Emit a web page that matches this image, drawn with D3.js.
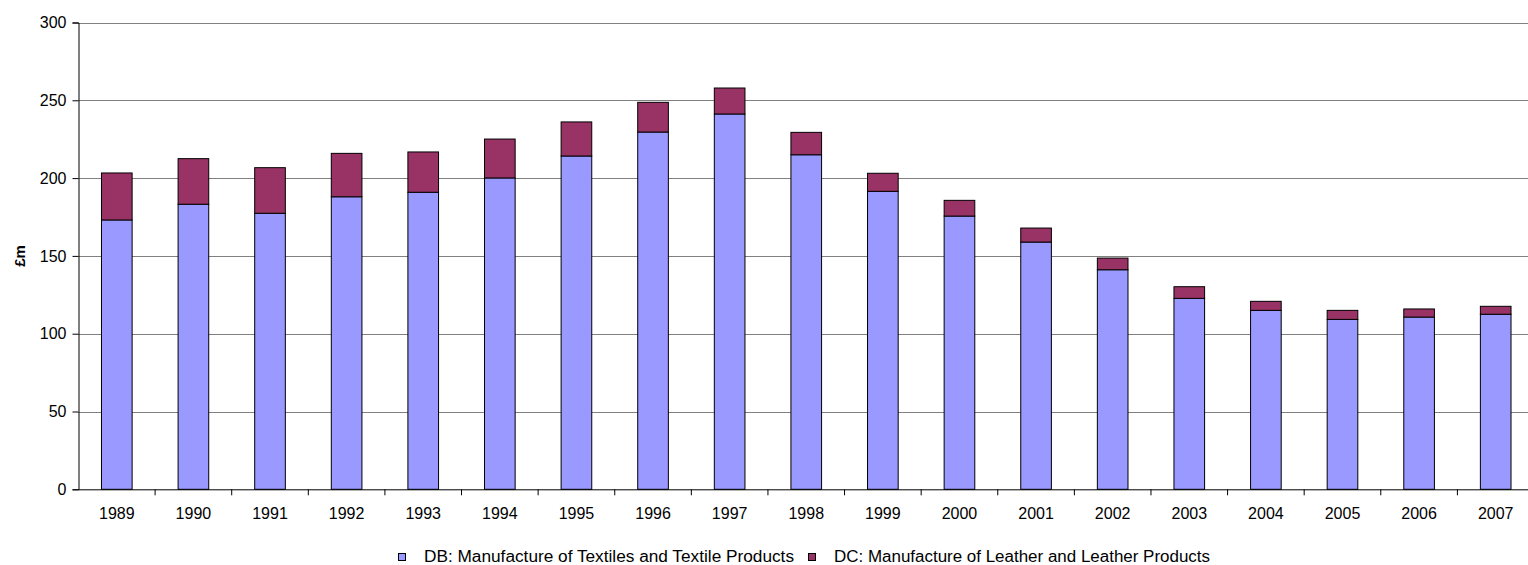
<!DOCTYPE html>
<html>
<head>
<meta charset="utf-8">
<script src="https://cdn.jsdelivr.net/npm/d3@7"></script>
<style>
  html, body { margin: 0; padding: 0; background: #fff; }
  svg { display: block; font-family: "Liberation Sans", Arial, sans-serif; }
</style>
</head>
<body>
<svg id="chart" width="1528" height="565"></svg>
<script>
// Annual output, £m
const years = ["1989","1990","1991","1992","1993","1994","1995","1996","1997","1998",
               "1999","2000","2001","2002","2003","2004","2005","2006","2007"];
const textiles = [173.1, 183.2, 177.4, 188.0, 190.9, 200.1, 214.2, 229.6, 241.2, 215.0,
                  191.5, 175.6, 158.9, 141.1, 122.7, 115.0, 109.2, 110.7, 112.5];
const leather  = [30.2, 29.3, 29.3, 27.9, 25.9, 25.0, 21.9, 19.1, 16.7, 14.4,
                  11.6, 10.1, 9.0, 7.5, 7.5, 5.8, 5.8, 5.2, 5.1];
const yTicks = [0, 50, 100, 150, 200, 250, 300];
const seriesNames = ["DB: Manufacture of Textiles and Textile Products",
                     "DC: Manufacture of Leather and Leather Products"];
const seriesColors = ["#9999FF", "#993366"];

const svg = d3.select("#chart");
const plotLeft = 78.5, plotRight = 1534, plotTop = 22.5, plotBottom = 489.3;

const rows = years.map((yr, i) => ({ year: yr, textiles: textiles[i], leather: leather[i] }));
const stacked = d3.stack().keys(["textiles", "leather"])(rows);

const xCat = d3.scaleBand().domain(years).range([plotLeft, plotRight]).padding(0);
const xBar = d3.scaleBand().domain(years).range([plotLeft, plotRight]).paddingInner(0.6).paddingOuter(0.3);
const y = d3.scaleLinear().domain([0, 300]).range([plotBottom, plotTop]);

// horizontal gridlines
svg.append("g")
  .selectAll("line")
  .data(yTicks.filter(t => t > 0))
  .join("line")
  .attr("x1", plotLeft).attr("x2", 1528)
  .attr("y1", d => Math.round(y(d)) + 0.5).attr("y2", d => Math.round(y(d)) + 0.5)
  .attr("stroke", "#808080").attr("stroke-width", 1);

// stacked bars
svg.append("g")
  .selectAll("g")
  .data(stacked)
  .join("g")
  .attr("fill", (d, i) => seriesColors[i])
  .selectAll("rect")
  .data(d => d)
  .join("rect")
  .attr("x", d => xBar(d.data.year))
  .attr("width", xBar.bandwidth())
  .attr("y", d => y(d[1]))
  .attr("height", d => y(d[0]) - y(d[1]))
  .attr("stroke", "#000").attr("stroke-width", 1);

// y axis
const yAxis = svg.append("g")
  .attr("transform", `translate(${plotLeft},0)`)
  .call(d3.axisLeft(y).tickValues(yTicks).tickSize(6).tickPadding(6));
yAxis.select(".domain").attr("stroke", "#000");
yAxis.selectAll(".tick line").attr("stroke", "#000");
yAxis.selectAll("text").attr("font-size", 16).attr("fill", "#000")
  .attr("font-family", "Liberation Sans, Arial, sans-serif");

// x axis: labels at category centres, ticks at category boundaries
const xAxis = svg.append("g")
  .attr("transform", `translate(0,${plotBottom})`)
  .call(d3.axisBottom(xCat).tickSize(0).tickPadding(18));
xAxis.select(".domain").attr("stroke", "#000").attr("d", `M${plotLeft},0.5H${plotRight}`);
xAxis.selectAll("text").attr("font-size", 16).attr("fill", "#000")
  .attr("font-family", "Liberation Sans, Arial, sans-serif");
svg.append("g")
  .selectAll("line")
  .data(years.slice(1).concat(["__end"]))
  .join("line")
  .attr("x1", d => d === "__end" ? plotRight : xCat(d))
  .attr("x2", d => d === "__end" ? plotRight : xCat(d))
  .attr("y1", plotBottom).attr("y2", plotBottom + 6)
  .attr("stroke", "#000");

// y axis title
svg.append("text")
  .attr("transform", "translate(25,256) rotate(-90)")
  .attr("text-anchor", "middle")
  .attr("font-size", 15).attr("font-weight", "bold")
  .text("£m");

// legend
const legendItems = [
  { name: seriesNames[0], color: seriesColors[0], sx: 398.5, tx: 424, len: 370 },
  { name: seriesNames[1], color: seriesColors[1], sx: 808.5, tx: 834, len: 376 }
];
const lg = svg.append("g");
legendItems.forEach(it => {
  lg.append("rect").attr("x", it.sx).attr("y", 553.5).attr("width", 7).attr("height", 7)
    .attr("fill", it.color).attr("stroke", "#000").attr("stroke-width", 1);
  lg.append("text").attr("x", it.tx).attr("y", 562).attr("font-size", 16)
    .attr("textLength", it.len).attr("lengthAdjust", "spacingAndGlyphs")
    .text(it.name);
});
</script>
</body>
</html>
